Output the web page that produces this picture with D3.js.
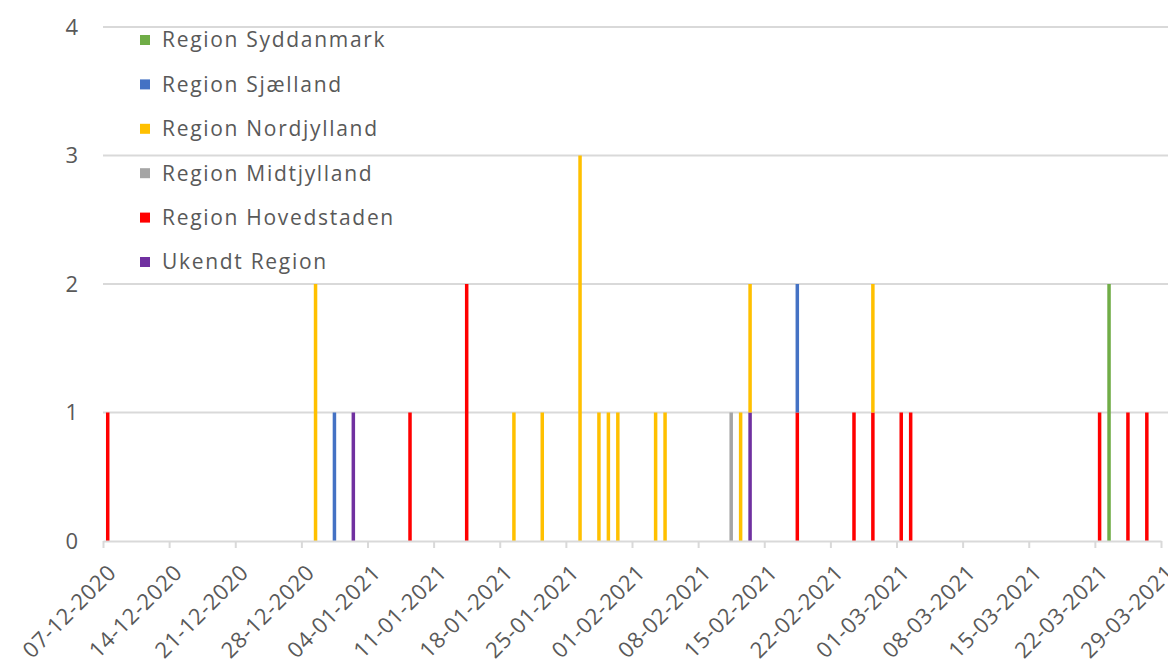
<!DOCTYPE html>
<html>
<head>
<meta charset="utf-8">
<script src="https://cdn.jsdelivr.net/npm/d3@7"></script>
<style>
  body { margin: 0; background: #fff; }
  svg { display: block; font-family: "Open Sans", Lato, sans-serif; }
</style>
</head>
<body>
<svg width="1168" height="671"></svg>
<script>
// Days that had cases (dd-mm-yyyy), and the count per region for each of them
const days = ["07-12-2020", "29-12-2020", "31-12-2020", "02-01-2021", "08-01-2021", "14-01-2021",
              "19-01-2021", "22-01-2021", "26-01-2021", "28-01-2021", "29-01-2021", "30-01-2021",
              "03-02-2021", "04-02-2021", "11-02-2021", "12-02-2021", "13-02-2021", "18-02-2021",
              "24-02-2021", "26-02-2021", "01-03-2021", "02-03-2021", "22-03-2021", "23-03-2021",
              "25-03-2021", "27-03-2021"];

const ukendt      = [0, 0, 0, 1, 0, 0, 0, 0, 0, 0, 0, 0, 0, 0, 0, 0, 1, 0, 0, 0, 0, 0, 0, 0, 0, 0];
const hovedstaden = [1, 0, 0, 0, 1, 2, 0, 0, 0, 0, 0, 0, 0, 0, 0, 0, 0, 1, 1, 1, 1, 1, 1, 0, 1, 1];
const midtjylland = [0, 0, 0, 0, 0, 0, 0, 0, 0, 0, 0, 0, 0, 0, 1, 0, 0, 0, 0, 0, 0, 0, 0, 0, 0, 0];
const nordjylland = [0, 2, 0, 0, 0, 0, 1, 1, 3, 1, 1, 1, 1, 1, 0, 1, 1, 0, 0, 1, 0, 0, 0, 0, 0, 0];
const sjaelland   = [0, 0, 1, 0, 0, 0, 0, 0, 0, 0, 0, 0, 0, 0, 0, 0, 0, 1, 0, 0, 0, 0, 0, 0, 0, 0];
const syddanmark  = [0, 0, 0, 0, 0, 0, 0, 0, 0, 0, 0, 0, 0, 0, 0, 0, 0, 0, 0, 0, 0, 0, 0, 2, 0, 0];

// stacking order, bottom first
const regionNames  = ["Ukendt Region", "Region Hovedstaden", "Region Midtjylland",
                      "Region Nordjylland", "Region Sjælland", "Region Syddanmark"];
const regionColors = ["#7030A0", "#FF0000", "#A5A5A5", "#FFC000", "#4472C4", "#70AD47"];
const regionValues = [ukendt, hovedstaden, midtjylland, nordjylland, sjaelland, syddanmark];

const axisStart = "07-12-2020";
const axisEnd = "29-03-2021";
const yTicks = [0, 1, 2, 3, 4];

const parse = d3.timeParse("%d-%m-%Y");
const fmt = d3.timeFormat("%d-%m-%Y");

const svg = d3.select("svg");
const plotLeft = 103, plotRight = 1161, plotTop = 27, plotBottom = 541;

const x = d3.scaleTime()
    .domain([parse(axisStart), parse(axisEnd)])
    .range([plotLeft, plotRight]);
const y = d3.scaleLinear().domain([0, 4]).range([plotBottom, plotTop]);
const dayW = x(d3.timeDay.offset(parse(axisStart), 1)) - x(parse(axisStart));

// gridlines
svg.append("g")
  .selectAll("line")
  .data(yTicks.slice(1))
  .enter()
  .append("line")
  .attr("x1", plotLeft).attr("x2", 1168)
  .attr("y1", d => y(d)).attr("y2", d => y(d))
  .attr("stroke", "#d9d9d9")
  .attr("stroke-width", 2);

// y labels
svg.append("g")
  .selectAll("text")
  .data(yTicks)
  .enter()
  .append("text")
  .attr("x", 78)
  .attr("y", d => y(d))
  .attr("dy", "0.35em")
  .attr("text-anchor", "end")
  .attr("fill", "#595959")
  .style("font-size", "22px")
  .text(d => d);

// stacked bars
const rows = days.map((d, i) => {
  const r = { date: parse(d) };
  regionNames.forEach((n, k) => r[n] = regionValues[k][i]);
  return r;
});
const stacked = d3.stack().keys(regionNames)(rows);

svg.append("g")
  .selectAll("g")
  .data(stacked)
  .enter()
  .append("g")
  .attr("fill", (d, i) => regionColors[i])
  .selectAll("rect")
  .data(d => d.filter(s => s[1] > s[0]))
  .enter()
  .append("rect")
  .attr("x", d => x(d.data.date) + dayW / 2 - 1.75)
  .attr("width", 3.5)
  .attr("y", d => y(d[1]))
  .attr("height", d => y(d[0]) - y(d[1]));

// x axis
const xAxis = d3.axisBottom(x)
    .ticks(d3.timeMonday.every(1))
    .tickFormat(fmt)
    .tickSize(7)
    .tickSizeOuter(0);

const gx = svg.append("g")
  .attr("transform", `translate(0,${plotBottom})`)
  .call(xAxis);
gx.select(".domain").attr("stroke", "#d9d9d9").attr("stroke-width", 2);
gx.selectAll(".tick line").attr("stroke", "#d9d9d9").attr("stroke-width", 2);
gx.selectAll(".tick text")
  .attr("fill", "#595959")
  .style("font-size", "22px")
  .style("letter-spacing", "0.6px")
  .style("font-family", "'Open Sans', Lato, sans-serif")
  .attr("text-anchor", "end")
  .attr("dy", null)
  .attr("y", 0)
  .attr("transform", "translate(14,33) rotate(-45)");

// legend (top series first)
const legend = svg.append("g")
  .selectAll("g")
  .data(regionNames.slice().reverse())
  .enter()
  .append("g")
  .attr("transform", (d, i) => `translate(140,${40 + i * 44.4})`);

legend.append("rect")
  .attr("x", 0).attr("y", -5)
  .attr("width", 10).attr("height", 10)
  .attr("fill", d => regionColors[regionNames.indexOf(d)]);

legend.append("text")
  .attr("x", 22)
  .attr("dy", "0.35em")
  .attr("fill", "#595959")
  .style("font-size", "21px")
  .style("letter-spacing", "1.7px")
  .text(d => d);
</script>
</body>
</html>
